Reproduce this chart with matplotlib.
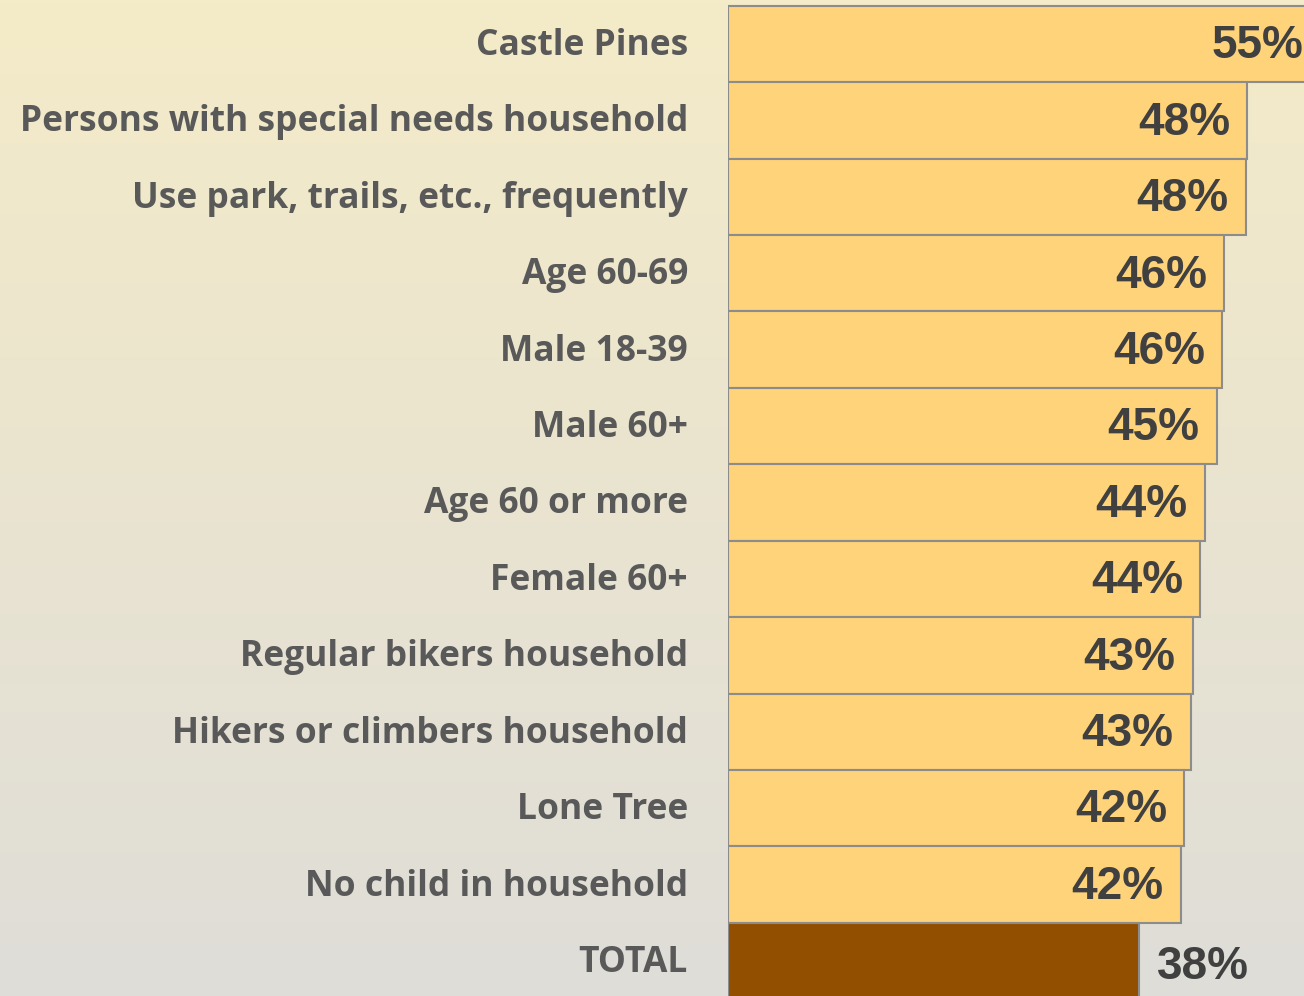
import numpy as np
import matplotlib.pyplot as plt
from matplotlib.colors import LinearSegmentedColormap

# survey subgroups, top to bottom
categories = ["Castle Pines", "Persons with special needs household",
              "Use park, trails, etc., frequently", "Age 60-69", "Male 18-39",
              "Male 60+", "Age 60 or more", "Female 60+",
              "Regular bikers household", "Hikers or climbers household",
              "Lone Tree", "No child in household", "TOTAL"]
# share in percent
values = [55.2, 47.9, 47.8, 45.8, 45.6, 45.1, 44.0, 43.6,
          42.9, 42.7, 42.1, 41.8, 37.9]

W, H = 1304, 996
fig = plt.figure(figsize=(W / 100, H / 100), dpi=100)

# background gradient, yellowish top to grey bottom
bg = fig.add_axes([0, 0, 1, 1], zorder=-1)
grad = LinearSegmentedColormap.from_list("bg", ["#DFDDD8", "#F4EBC8"])
bg.imshow(np.linspace(0, 1, 256).reshape(-1, 1), aspect="auto", cmap=grad,
          origin="lower", extent=[0, 1, 0, 1])
bg.set_axis_off()

x0 = 728 / W
ax = fig.add_axes([x0, 0, 1 - x0, 1])
ax.patch.set_alpha(0)
px_per = (1248 - 728) / 48.0
xmax = (W - 728) / px_per
ax.set_xlim(0, xmax)
pitch = (961 - 44) / 12.0
ax.set_ylim(12 + (H - 961) / pitch, -44 / pitch)

n = len(categories)
ypos = np.arange(n)
colors = ["#FFD37A"] * (n - 1) + ["#934F00"]
ax.barh(ypos, values, height=1.0, color=colors, edgecolor="#8C8C8C",
        linewidth=1.5)

for i, (c, v) in enumerate(zip(categories, values)):
    fig.text(688 / W, 1 - (46 + i * pitch) / H, c, ha="right", va="center",
             fontsize=25.5, fontweight="bold", family="Open Sans", color="#595959")
    lab = f"{round(v)}%"
    if c == "TOTAL":
        ax.text(v + 18 / px_per, i + 0.08, lab, ha="left", va="center",
                fontsize=33, fontweight="bold", family="Liberation Sans",
                color="#404040")
    else:
        xt = min(v - 17 / px_per, xmax - 1 / px_per)
        ax.text(xt, i + 0.03, lab, ha="right", va="center",
                fontsize=33, fontweight="bold", family="Liberation Sans",
                color="#404040")

ax.set_axis_off()
fig.savefig("out.png", dpi=100)
